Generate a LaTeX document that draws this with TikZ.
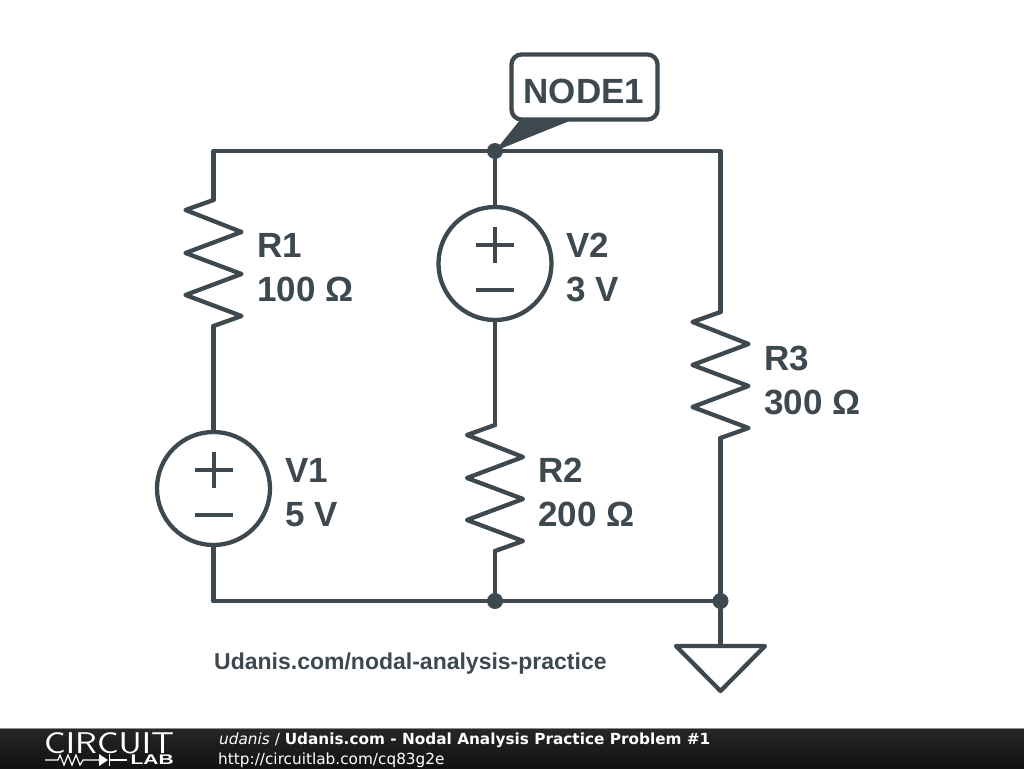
\documentclass[tikz,border=0pt]{standalone}
\usepackage{fontspec}
\setmainfont{Liberation Sans}
\newfontfamily\footfont{DejaVu Sans}
\usepackage{tikz}
\usetikzlibrary{calc}
\definecolor{wirecol}{HTML}{3E494F}
\tikzset{wire/.style={draw=wirecol,line width=4.3pt,line join=round,line cap=round}}
\tikzset{l/.style={font=\fontsize{35}{44}\selectfont\bfseries,text=wirecol,align=left,anchor=west,inner sep=0pt}}
\tikzset{dot/.style={circle,fill=wirecol,inner sep=0pt,minimum size=16pt}}
\tikzset{f/.style={font=\fontsize{15.3}{15}\selectfont\footfont,text=white,anchor=base west,inner sep=0pt}}
\tikzset{logo/.style={draw=white,line width=1.2pt}}
\tikzset{res/.pic={
          \coordinate (-top) at (0,-63);
          \coordinate (-bot) at (0,63);
          \draw[wire] (-top)--(-28,-53)--(28,-31)--(-28,-10)--(28,11)--(-28,32)--(28,53)--(-bot);
        }}
\tikzset{vsrc/.pic={
          \node[circle,wire,fill=none,minimum size=113pt,inner sep=0pt] (-c) at (0,0) {};
          \draw[wire,line width=4pt,line cap=butt] (-19,-19)--(19,-19) (0,-37)--(0,-1) (-19,26)--(19,26);
        }}
\begin{document}
\begin{tikzpicture}[x=1pt,y=-1pt]
        \useasboundingbox (0,0) rectangle (1024,768);
        \coordinate (TL) at (213.5,151);
        \coordinate (TR) at (720.5,151);
        \coordinate (BL) at (213.5,601);
        \node[dot] (N1) at (495,151) {};
        \node[dot] (N2) at (495,601) {};
        \node[dot] (N3) at (720.5,601) {};
        \pic (R1) at (213.5,263) {res};
        \pic (R2) at (495,488) {res};
        \pic (R3) at (720.5,375) {res};
        \pic (V1) at (213.5,488.5) {vsrc};
        \pic (V2) at (495,263.5) {vsrc};
        \draw[wire] (BL)--(V1-c.south);
        \draw[wire] (V1-c.north)--(R1-bot);
        \draw[wire] (R1-top)--(TL)--(TR)--(R3-top);
        \draw[wire] (R3-bot)--(N3);
        \draw[wire] (BL)--(N3);
        \draw[wire] (N1)--(V2-c.north);
        \draw[wire] (V2-c.south)--(R2-top);
        \draw[wire] (R2-bot)--(N2);
        \node[l] (R1l) at (257,267.5) {R1\\100 Ω};
        \node[l] (V2l) at (566,267) {V2\\3 V};
        \node[l] (R3l) at (764,380) {R3\\300 Ω};
        \node[l] (V1l) at (285,492.5) {V1\\5 V};
        \node[l] (R2l) at (538,492) {R2\\200 Ω};
        % callout
        \coordinate (tipl) at (520,120);
        \coordinate (tipr) at (572,120);
        \fill[wirecol] (N1.center)--(tipl)--(tipr)--cycle;
        \node[draw=wirecol,line width=4.3pt,fill=white,rounded corners=10pt,minimum width=146pt,minimum height=65pt,inner sep=0pt] (NODE1) at (584.5,87) {};
        \node[anchor=base,inner sep=0pt,font=\fontsize{35}{35}\selectfont\bfseries,text=wirecol] (NODE1t) at (584,103.5) {NODE1};
        % ground
        \coordinate (G) at (720.5,646);
        \draw[wire] (N3)--(G);
        \draw[wire] (G)--(676,646)--(720.5,691)--(765,646)--cycle;
        \node[anchor=base west,inner sep=0pt,font=\fontsize{23}{23}\selectfont\bfseries,text=wirecol] (URL) at (214,669) {Udanis.com/nodal-analysis-practice};
        % footer
        \shade[top color=black!85,bottom color=black!93] (0,729) rectangle (1024,768);
        \draw[black!45,line width=1pt] (0,728.5)--(1024,728.5);
        \node[f] (T1) at (219,744) {\textit{udanis} / \textbf{Udanis.com - Nodal Analysis Practice Problem \#1}};
        \node[f] (T2) at (218,764) {http://circuitlab.com/cq83g2e};
        \node[anchor=base west,inner sep=0pt,text=white,text depth=0pt,text height=19pt,xscale=1.2,font=\fontsize{30}{30}\selectfont\sffamily] (CIRC) at (44,753) {CIRCUIT};
        \node[anchor=base east,inner sep=0pt,text=white,text depth=0pt,text height=9pt,xscale=1.5,font=\fontsize{14}{14}\selectfont\bfseries] (LAB) at (174,764.5) {LAB};
        \coordinate (la) at (45,760);
        \coordinate (lb) at (127,760);
        \draw[logo] (la)--(58,760)--(60,755)--(64,765)--(68,755)--(72,765)--(76,755)--(80,765)--(83,760)--(99,760);
        \fill[white] (99,754)--(108,760)--(99,766)--cycle;
        \draw[logo] (109.5,754)--(109.5,766);
        \draw[logo] (109.5,760)--(lb);
\end{tikzpicture}
\end{document}
